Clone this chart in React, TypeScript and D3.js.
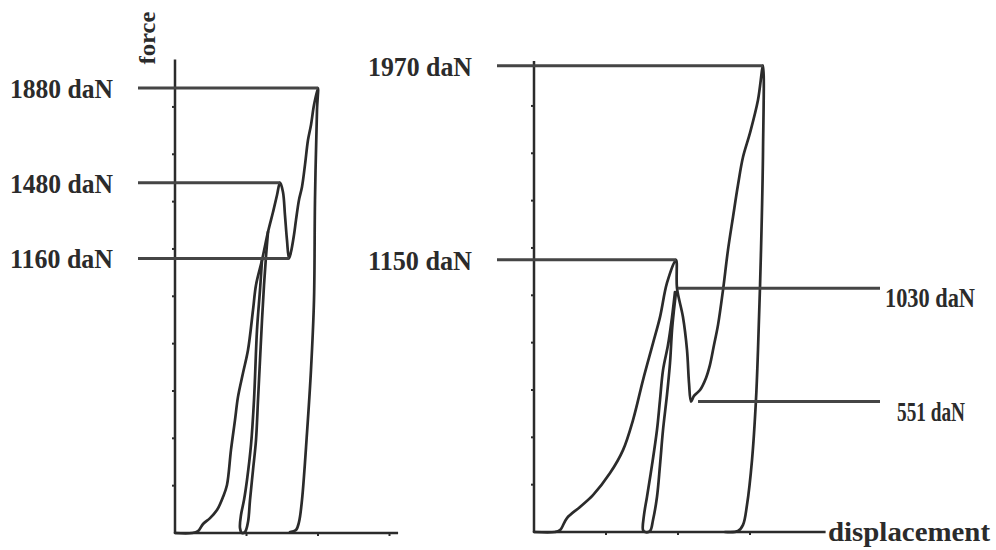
import * as d3 from 'd3'

type Pt = [number, number] // [displacement, force daN]

// left test: first loading + reloading (peak 1480, drop 1160, peak 1880)
const leftMain: Pt[] = [
  [0, 0], [0.238, 0], [0.322, 8], [0.392, 38], [0.49, 63], [0.587, 97], [0.671, 152],
  [0.727, 203], [0.783, 351], [0.839, 477], [0.881, 575], [0.951, 676], [1.021, 773],
  [1.091, 942], [1.133, 1048], [1.217, 1153], [1.301, 1272], [1.371, 1356], [1.427, 1428],
  [1.469, 1480], [1.51, 1441], [1.538, 1343], [1.566, 1238], [1.594, 1160], [1.622, 1187],
  [1.664, 1259], [1.692, 1322], [1.734, 1407], [1.776, 1462], [1.818, 1555], [1.86, 1660],
  [1.902, 1724], [1.944, 1808], [2.0, 1880], [1.986, 1787], [1.958, 1407], [1.944, 984],
  [1.902, 689], [1.846, 422], [1.776, 139], [1.734, 46], [1.692, 13], [1.608, 4],
]
// left test: unload / reload loop
const leftLoop: Pt[] = [
  [1.217, 1153], [1.189, 1027], [1.147, 858], [1.105, 562], [1.063, 372],
  [1.007, 224], [0.965, 139], [0.923, 76], [0.909, 21], [0.937, 0], [0.979, 4],
  [1.021, 46], [1.049, 139], [1.091, 266], [1.133, 393], [1.161, 562], [1.189, 731],
  [1.217, 900], [1.245, 1048], [1.273, 1170], [1.301, 1272],
]
// right test
const rightMain: Pt[] = [
  [0, 0], [0.292, 0], [0.361, 8], [0.458, 59], [0.639, 106], [0.819, 156], [1.056, 249],
  [1.236, 346], [1.375, 473], [1.514, 642], [1.653, 798], [1.75, 908], [1.847, 1052],
  [1.972, 1150], [1.986, 1030], [2.069, 908], [2.125, 769], [2.153, 629], [2.181, 551],
  [2.222, 575], [2.306, 600], [2.389, 651], [2.444, 706], [2.5, 790], [2.556, 875],
  [2.625, 1022], [2.694, 1191], [2.764, 1331], [2.833, 1466], [2.903, 1584], [3.0, 1686],
  [3.111, 1825], [3.181, 1970], [3.181, 1614], [3.153, 1191], [3.111, 769], [3.083, 558],
  [3.028, 304], [2.958, 114], [2.903, 30], [2.833, 4], [2.653, 0],
]
const rightLoop: Pt[] = [
  [1.958, 1014], [1.917, 908], [1.861, 790], [1.792, 684], [1.75, 558], [1.708, 431],
  [1.639, 283], [1.569, 148], [1.528, 72], [1.514, 8], [1.542, 0], [1.611, 4],
  [1.653, 51], [1.708, 148], [1.75, 283], [1.792, 431], [1.847, 579], [1.889, 714],
  [1.917, 853], [1.944, 938], [1.972, 1014],
]

const forceTicks = [200, 400, 600, 800, 1000, 1200, 1400, 1600, 1800]
const dispTicks = [1, 2, 3]

// annotated levels: value, label, side of the label
const leftLevels = [1880, 1480, 1160]
const leftLabels = ['1880 daN', '1480 daN', '1160 daN']
const rightLevels = [1970, 1150, 1030, 551]
const rightLabels = ['1970 daN', '1150 daN', '1030 daN', '551 daN']
const rightSides = ['left', 'left', 'right', 'right']

const ink = '#2b2b2b'
const lead = '#454545'
const font = '"Liberation Serif", "Times New Roman", serif'

const pxPerDaN = 0.2367

const left = {
  x: d3.scaleLinear().domain([0, 1]).range([175, 246.5]),
  y: d3.scaleLinear().domain([0, 1000]).range([533, 533 - 1000 * pxPerDaN]),
  xMax: 3.12,
  yMax: 2000,
}
const right = {
  x: d3.scaleLinear().domain([0, 1]).range([534, 606]),
  y: d3.scaleLinear().domain([0, 1000]).range([532, 532 - 1000 * pxPerDaN]),
  xMax: 4.05,
  yMax: 1990,
}

type Panel = typeof left

const Axes = ({ p }: { p: Panel }) => {
  const x0 = p.x(0)
  const y0 = p.y(0)
  return (
    <g stroke={ink} strokeWidth={2.5} fill="none">
      <line x1={x0} y1={y0} x2={x0} y2={p.y(p.yMax)} />
      <line x1={x0} y1={y0} x2={p.x(p.xMax)} y2={y0} />
      {forceTicks.map((t) => (
        <line key={'y' + t} x1={x0 - 3} x2={x0} y1={p.y(t)} y2={p.y(t)} strokeWidth={2} />
      ))}
      {dispTicks.map((t) => (
        <line key={'x' + t} x1={p.x(t)} x2={p.x(t)} y1={y0} y2={y0 + 3} strokeWidth={2} />
      ))}
    </g>
  )
}

const Curve = ({ p, data }: { p: Panel; data: Pt[] }) => {
  const line = d3
    .line<Pt>()
    .x((d) => p.x(d[0]))
    .y((d) => p.y(d[1]))
    .curve(d3.curveCatmullRom.alpha(0.5))
  return (
    <path d={line(data) || ''} fill="none" stroke={ink} strokeWidth={2.7} strokeLinejoin="round" strokeLinecap="round" />
  )
}

// where a curve reaches a given level (first matching point)
const atLevel = (data: Pt[], v: number) => data.find((d) => d[1] === v) as Pt

export default function App() {
  return (
    <svg width={996} height={550} style={{ position: 'absolute', left: 0, top: 0, background: '#fff' }}>
      <rect width={996} height={550} fill="#fff" />

      {/* left panel */}
      <Axes p={left} />
      <Curve p={left} data={leftMain} />
      <Curve p={left} data={leftLoop} />
      {leftLevels.map((v, i) => {
        const pt = atLevel(leftMain, v)
        const y = left.y(v)
        return (
          <g key={v}>
            <line x1={138} x2={left.x(pt[0])} y1={y} y2={y} stroke={lead} strokeWidth={3} />
            <text x={10} y={y + 10} fontFamily={font} fontWeight="bold" fontSize={28} fill={ink}
              textLength={103} lengthAdjust="spacingAndGlyphs">{leftLabels[i]}</text>
          </g>
        )
      })}
      <text transform="translate(155,38) rotate(-90)" textAnchor="middle" fontFamily={font}
        fontWeight="bold" fontSize={24} fill={ink} textLength={53} lengthAdjust="spacingAndGlyphs">force</text>

      {/* right panel */}
      <Axes p={right} />
      <Curve p={right} data={rightMain} />
      <Curve p={right} data={rightLoop} />
      {rightLevels.map((v, i) => {
        const pt = atLevel(rightMain, v)
        const y = right.y(v)
        const onLeft = rightSides[i] === 'left'
        const xa = onLeft ? 497 : right.x(pt[0]) + (v === 551 ? 7 : 1)
        const xb = onLeft ? right.x(pt[0]) : 880
        return (
          <g key={v}>
            <line x1={xa} x2={xb} y1={y} y2={y} stroke={lead} strokeWidth={3} />
            {onLeft ? (
              <text x={472} y={y + 10} textAnchor="end" fontFamily={font} fontWeight="bold" fontSize={28}
                fill={ink} textLength={104} lengthAdjust="spacingAndGlyphs">{rightLabels[i]}</text>
            ) : (
              <text x={v === 551 ? 897 : 885} y={y + 19} fontFamily={font} fontWeight="bold" fontSize={27}
                fill={ink} textLength={v === 551 ? 68 : 90} lengthAdjust="spacingAndGlyphs">{rightLabels[i]}</text>
            )}
          </g>
        )
      })}
      <text x={828} y={541} fontFamily={font} fontWeight="bold" fontSize={27} fill={ink}
        textLength={162} lengthAdjust="spacingAndGlyphs">displacement</text>
    </svg>
  )
}
